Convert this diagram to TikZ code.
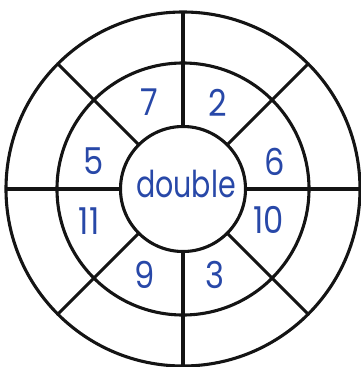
\documentclass[tikz,border=0pt]{standalone}
\usepackage{fontspec}
\setmainfont{Poppins}
\usetikzlibrary{calc}
\definecolor{numblue}{RGB}{40,72,168}
\begin{document}
\begin{tikzpicture}[x=1pt,y=-1pt,
  ring/.style={line width=3.1pt,draw=black!92},
  spoke/.style={line width=3.1pt,draw=black!92},
  num/.style={text=numblue,font=\fontsize{37}{37}\selectfont,inner sep=0pt,xscale=0.87},
  word/.style={text=numblue,font=\fontsize{37}{37}\selectfont,inner sep=0pt,xscale=0.77}]
\useasboundingbox (0,0) rectangle (361,367);
\coordinate (c) at (183,189);
\draw[ring] (c) circle[radius=62.5];
\draw[ring] (c) circle[radius=126];
\draw[ring] (c) circle[radius=177];
\foreach \a in {0,45,...,315}{
  \draw[spoke] ($(c)+(\a:62.5)$) -- ($(c)+(\a:177)$);
}
\node[num] (n7) at (149.5,102.5) {7};
\node[num] (n2) at (218,102.5) {2};
\node[num] (n5) at (94,161.5) {5};
\node[num] (n6) at (275,161.5) {6};
\node[num] (n11) at (89,221) {11};
\node[num] (n10) at (268.5,220) {10};
\node[num] (n9) at (145,275) {9};
\node[num] (n3) at (215,275) {3};
\node[word,anchor=base] (dbl) at (186,197.7) {double};
\end{tikzpicture}
\end{document}
